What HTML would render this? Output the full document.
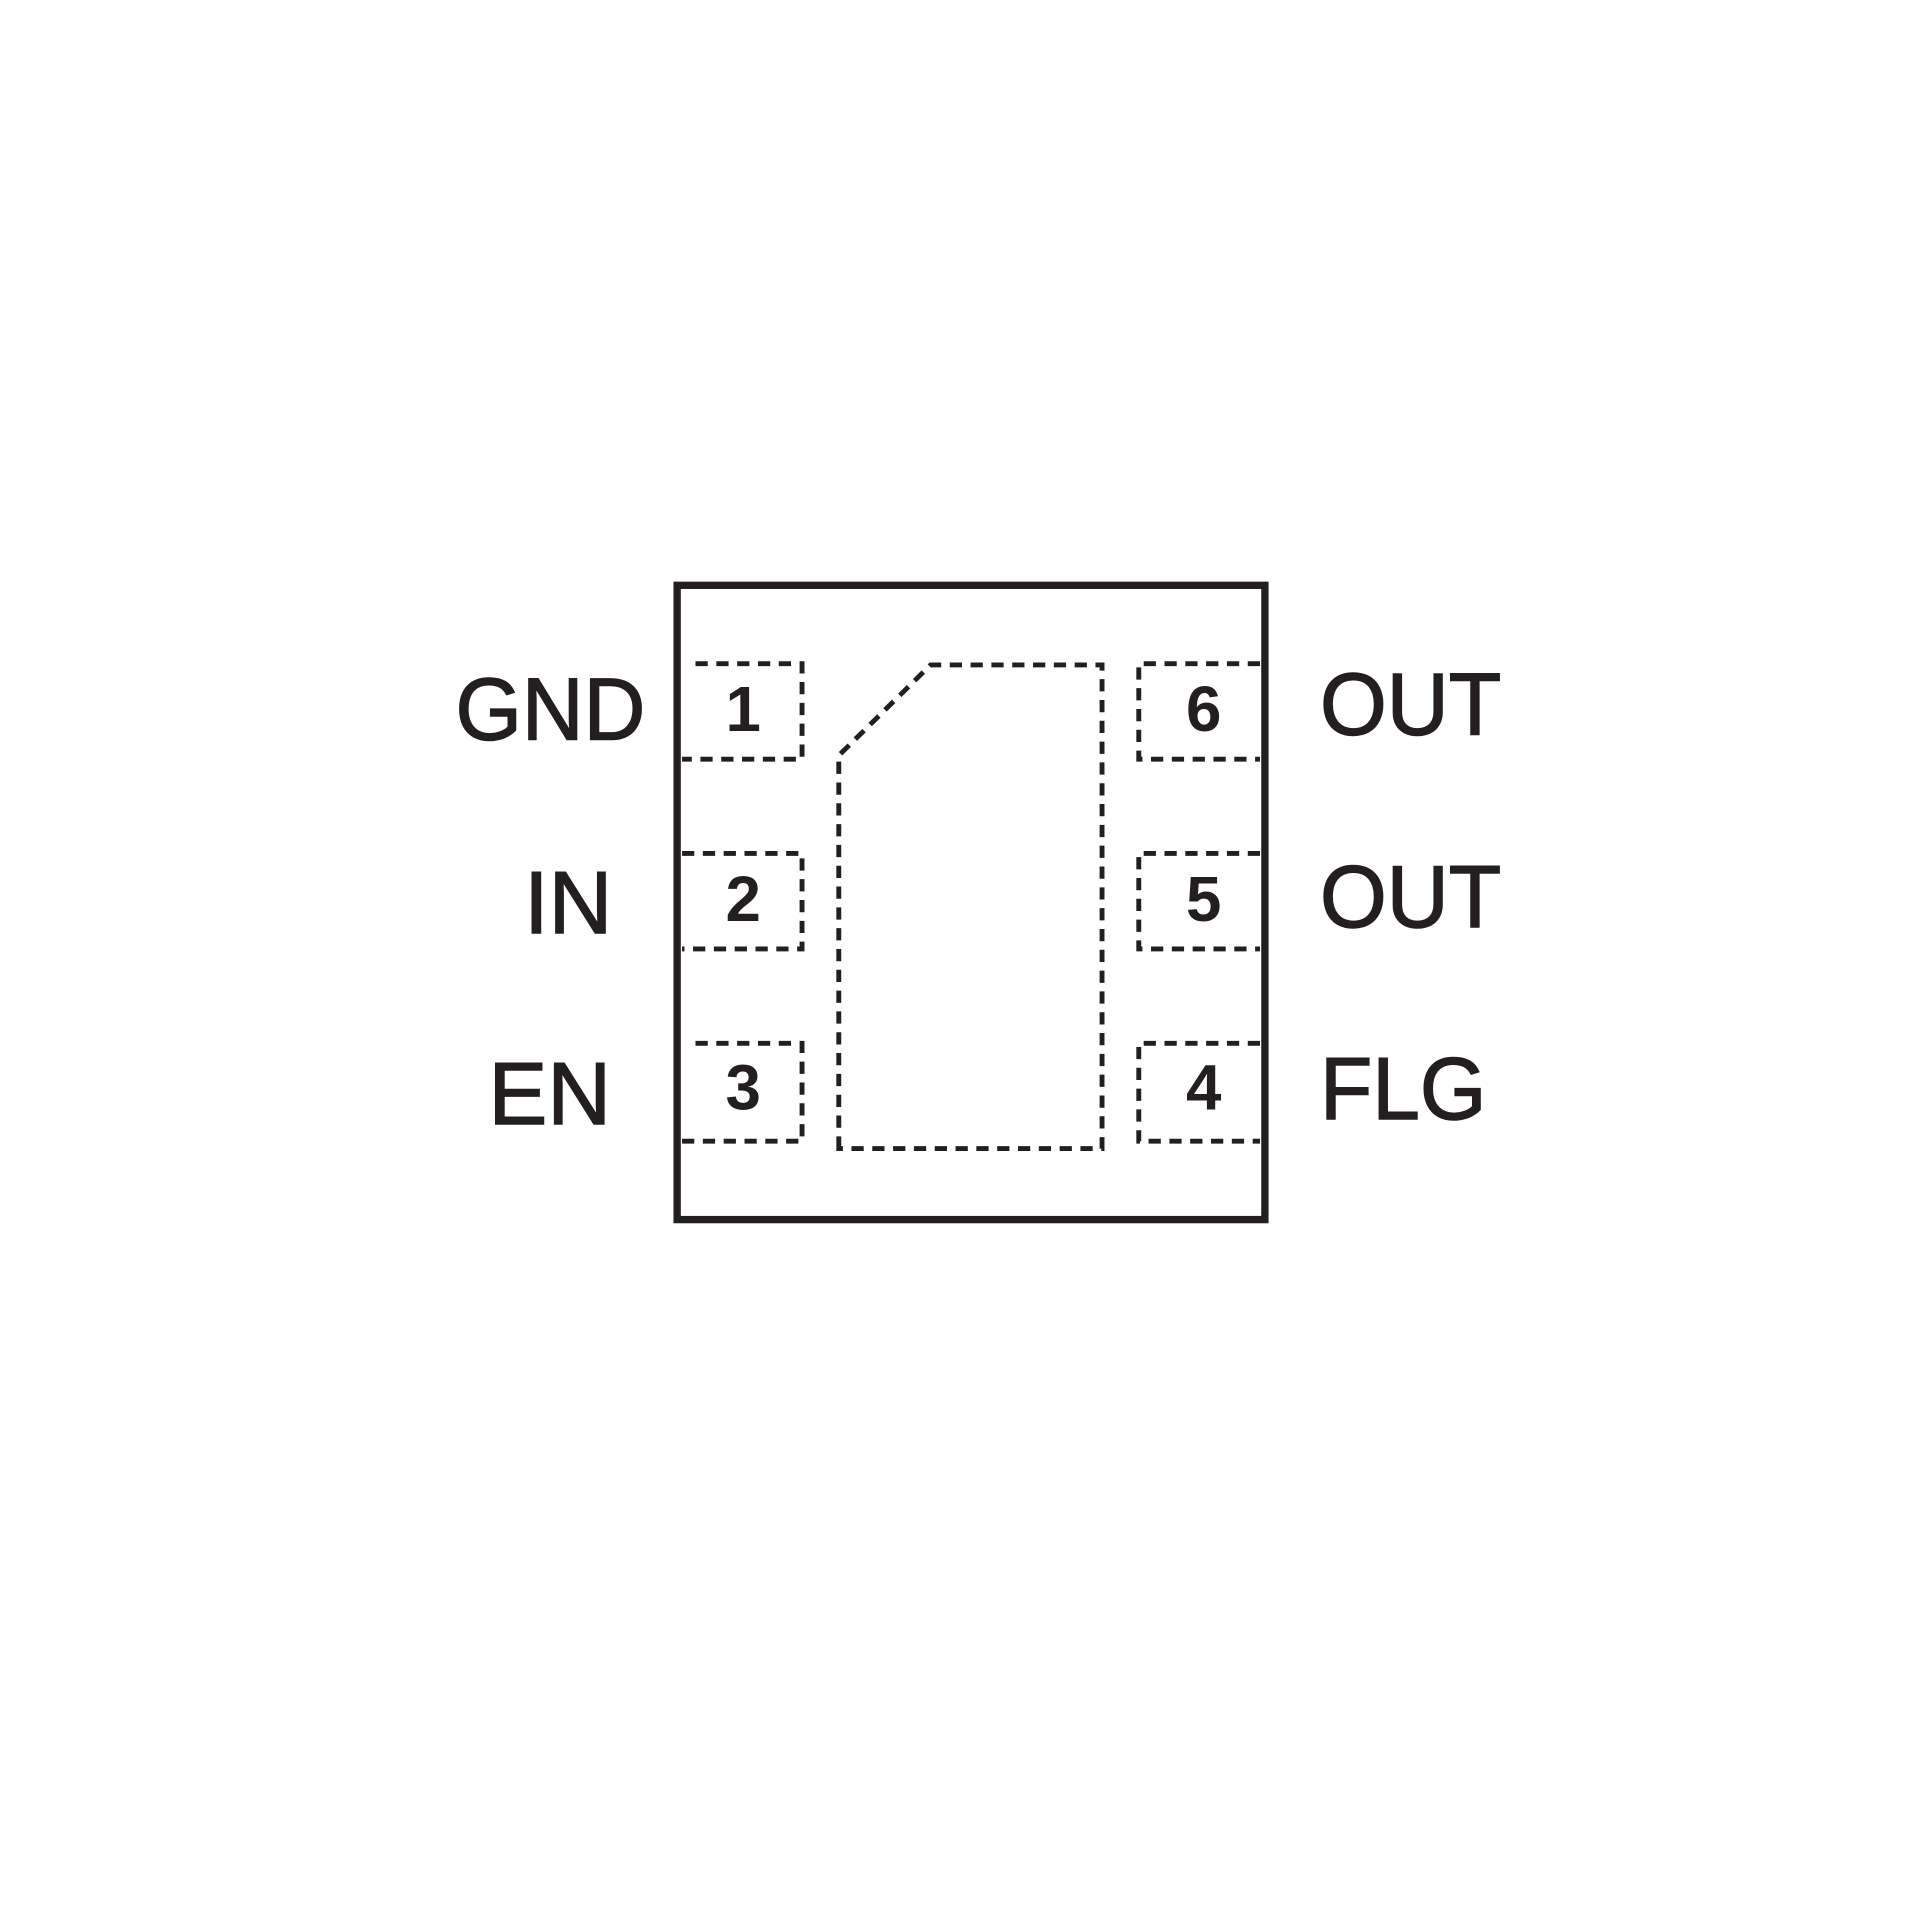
<!DOCTYPE html>
<html><head><style>html,body{margin:0;padding:0;background:#fff}svg{display:block}</style></head>
<body>
<svg width="1920" height="1920" viewBox="0 0 1568 1568" xmlns="http://www.w3.org/2000/svg">
<rect x="0" y="0" width="1568" height="1568" fill="#fff"/>
<rect x="553" y="478" width="480" height="518" fill="none" stroke="#231f20" stroke-width="6"/>
<g fill="none" stroke="#231f20" stroke-width="4" stroke-dasharray="10,7">
<path d="M568,542 H655 V620 H557"/>
<path d="M557,697 H655 V775 H557"/>
<path d="M568,852 H655 V932 H557"/>
<path d="M1029,542 H930 V620 H1029"/>
<path d="M1029,697 H930 V775 H1029"/>
<path d="M1029,852 H930 V932 H1029"/>
<path d="M685,938 V617 L760,543 H900 V938 Z"/>
</g>
<g font-family="Liberation Sans, sans-serif" fill="#231f20" stroke="#231f20" stroke-width="1.2">
<g font-size="72" text-anchor="end">
<text x="527" y="604" textLength="155" lengthAdjust="spacingAndGlyphs">GND</text>
<text x="500" y="762">IN</text>
<text x="499" y="918">EN</text>
</g>
<g font-size="72">
<text x="1078" y="600" textLength="148" lengthAdjust="spacingAndGlyphs">OUT</text>
<text x="1078" y="757" textLength="148" lengthAdjust="spacingAndGlyphs">OUT</text>
<text x="1078" y="914" textLength="136" lengthAdjust="spacingAndGlyphs">FLG</text>
</g>
<g font-size="52" font-weight="bold" text-anchor="middle" stroke-width="0">
<text x="607" y="597">1</text>
<text x="607" y="752">2</text>
<text x="607" y="906">3</text>
<text x="983" y="597">6</text>
<text x="983" y="752">5</text>
<text x="983" y="906">4</text>
</g>
</g>
</svg>
</body></html>
